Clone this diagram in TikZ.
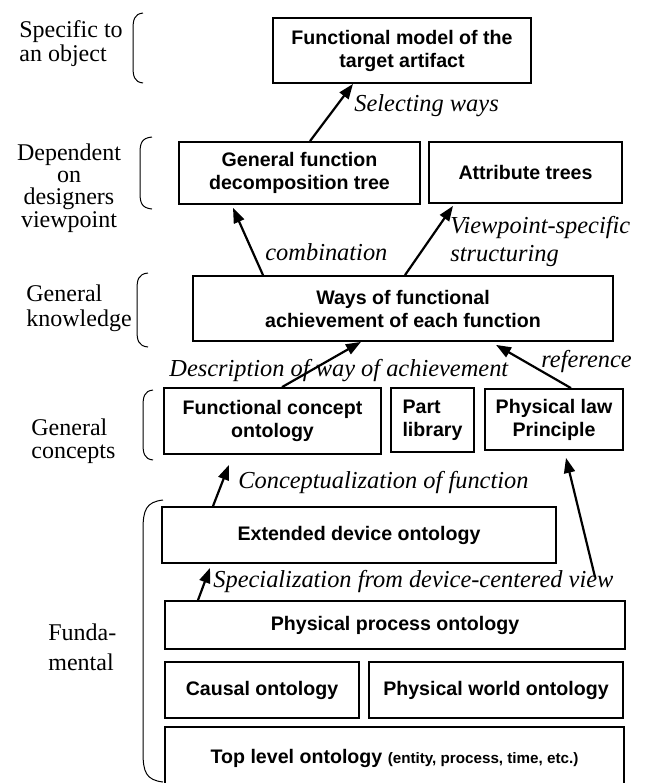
\documentclass[tikz,border=0pt]{standalone}
\usepackage{fontspec}
\setmainfont{Liberation Serif}
\newfontfamily\boxfont{Liberation Sans}
\usetikzlibrary{arrows.meta,calc}

\begin{document}
\begin{tikzpicture}[x=0.5pt,y=-0.5pt,
  box/.style={draw,line width=0.9pt,inner sep=0pt,align=center,font=\boxfont\bfseries\fontsize{9.8}{11.5}\selectfont},
  arr/.style={line width=1.1pt,-{Triangle[length=7.5pt,width=5.5pt]}},
  lbl/.style={inner sep=0pt,font=\itshape\fontsize{12.2}{14}\selectfont},
  side/.style={inner sep=0pt,font=\fontsize{12}{12}\selectfont},
  brace/.style={line width=0.5pt}]
  \useasboundingbox (0,0) rectangle (648,783);
  \node[box,minimum width=129pt,minimum height=32.5pt] (model) at (402,50.5) {Functional model of the\\target artifact};
  \node[box,minimum width=120.5pt,minimum height=31pt] (gfdt) at (299.5,173) {General function\\decomposition tree};
  \node[box,minimum width=96.5pt,minimum height=30.5pt] (attr) at (525.5,172.5) {Attribute trees};
  \node[box,minimum width=210pt,minimum height=32.5pt] (ways) at (403,308.5) {Ways of functional\\achievement of each function};
  \node[box,minimum width=108.5pt,minimum height=33pt] (fco) at (272.5,421) {Functional concept\\ontology};
  \node[box,minimum width=41.5pt,minimum height=32pt,align=left] (part) at (432.5,420) {Part\\library};
  \node[box,minimum width=69pt,minimum height=30.5pt] (law) at (554,419.5) {Physical law\\Principle};
  \node[box,minimum width=197pt,minimum height=28pt] (ext) at (359,535) {Extended device ontology};
  \node[box,minimum width=230pt,minimum height=24pt] (proc) at (395,625) {Physical process ontology};
  \node[box,minimum width=97pt,minimum height=28pt] (causal) at (262,690) {Causal ontology};
  \node[box,minimum width=127pt,minimum height=28pt] (world) at (496,690) {Physical world ontology};
  \node[box,draw=none,minimum width=228.5pt,minimum height=30pt] (toplvl) at (394.5,758) {Top level ontology {\fontsize{7.6}{9}\selectfont(entity, process, time, etc.)}};
  \draw[line width=0.9pt] (toplvl.south west) ++(0,30) |- (toplvl.north east) -- ++(0,90);

  \draw[arr] ($(gfdt.north)+(10.5,0)$) -- ($(model.south)+(-49,0)$);
  \draw[arr] ($(ways.north)+(-140,0)$) -- ($(gfdt.south)+(-66.5,3)$);
  \draw[arr] ($(ways.north)+(2,0)$) -- ($(attr.south)+(-72.5,2)$);
  \draw[arr] ($(fco.north)+(9.5,0)$) -- ($(ways.south)+(-42,0)$);
  \draw[arr] ($(law.north)+(17,0)$) -- ($(ways.south)+(93,3)$);
  \draw[arr] ($(ext.north)+(-146,0)$) -- ($(fco.south)+(-43.5,10)$);
  \draw[arr] ($(proc.north)+(-197,0)$) -- ($(ext.south)+(-149,4)$);
  \coordinate (lawfoot) at (595,577);
  \draw[arr] (lawfoot) -- ($(law.south)+(12,7)$);

  \node[lbl,anchor=west] (selw) at (354,106) {Selecting ways};
  \node[lbl,anchor=west] (comb) at (265,252) {combination};
  \node[lbl,anchor=north west,align=left] (vps) at (450,216) {Viewpoint-specific\\structuring};
  \node[lbl,anchor=west] (descr) at (169,371) {Description of way of achievement};
  \node[lbl,anchor=west] (refr) at (541,361) {reference};
  \node[lbl,anchor=west] (concf) at (238,482) {Conceptualization of function};
  \node[lbl,anchor=west] (specv) at (213,581) {Specialization from device-centered view};

  \node[side,anchor=north west,align=left] (lvobj) at (19,20) {Specific to\\an object};
  \node[side,anchor=north,align=center,font=\fontsize{12}{11.2}\selectfont] (lvdes) at (69,143) {Dependent\\on\\designers\\viewpoint};
  \node[side,anchor=north west,align=left,font=\fontsize{12}{12.5}\selectfont] (lvknow) at (26,284) {General\\knowledge};
  \node[side,anchor=north west,align=left,font=\fontsize{12}{11.5}\selectfont] (lvconc) at (31,418) {General\\concepts};
  \node[side,anchor=north west,align=left,font=\fontsize{12}{15}\selectfont] (lvfund) at (48,623) {Funda-\\mental};

  \foreach \l/\r/\t/\b in {133/143/13/83,140/152/137/209,137/148/273/347,143/153/390/460}
    \draw[brace] (\r,\t) .. controls (\l+1,\t+1) and (\l,\t+7) .. (\l,\t+17) -- (\l,\b-17) .. controls (\l,\b-7) and (\l+1,\b-1) .. (\r,\b);
  \draw[brace] (163,500) .. controls (146,502) and (143,510) .. (143,530) -- (143,752) .. controls (143,772) and (146,780) .. (163,782);
\end{tikzpicture}
\end{document}
